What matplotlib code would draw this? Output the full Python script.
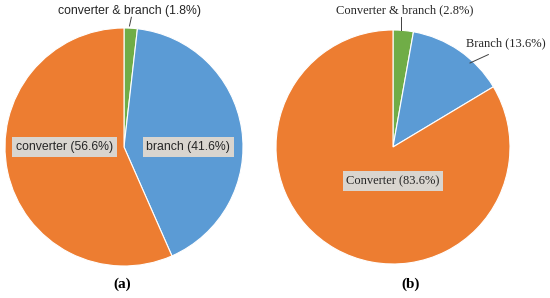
import matplotlib
matplotlib.use("Agg")
from matplotlib import pyplot as plt

W, H = 550, 298

# chart (a)
labels_a = ["converter & branch", "branch", "converter"]
values_a = [1.8, 41.6, 56.6]
# chart (b)
labels_b = ["Converter & branch", "Branch", "Converter"]
values_b = [2.8, 13.6, 83.6]

colors = ["#70AD47", "#5B9BD5", "#ED7D31"]
box = dict(boxstyle="square,pad=0.3", fc="#D9D5CF", ec="none")
line_kw = dict(color="#404040", lw=0.7, clip_on=False)


def pie_axes(cx, cy, r, values):
    # pixel centre / radius -> figure fraction axes
    ax = fig.add_axes([(cx - r) / W, (H - cy - r) / H, 2 * r / W, 2 * r / H])
    ax.pie(values, colors=colors, startangle=90, counterclock=False,
           wedgeprops=dict(edgecolor="white", linewidth=0.8))
    ax.set_xlim(-1, 1)
    ax.set_ylim(-1, 1)
    ax.set_aspect("equal")
    ax.axis("off")
    return ax


fig = plt.figure(figsize=(W / 100, H / 100), dpi=100)

# ---- (a)
ax1 = pie_axes(124, 147, 119, values_a)
sans = dict(family="Liberation Sans", fontsize=8.8, color="#262626")
ax1.text(-0.50, 0.0, f"{labels_a[2]} ({values_a[2]}%)", ha="center", va="center",
         bbox=box, **sans)
ax1.text(0.54, 0.0, f"{labels_a[1]} ({values_a[1]}%)", ha="center", va="center",
         bbox=box, **sans)
ax1.text(0.05, 1.145, f"{labels_a[0]} ({values_a[0]}%)", ha="center", va="center", **sans)
ax1.plot([0.046, 0.062], [1.017, 1.09], **line_kw)

# ---- (b)
ax2 = pie_axes(393, 147, 117, values_b)
serif = dict(family="Liberation Serif", fontsize=9.0, color="#262626")
ax2.text(0.0, -0.29, f"{labels_b[2]} ({values_b[2]}%)", ha="center", va="center",
         bbox=box, **serif)
ax2.text(0.10, 1.17, f"{labels_b[0]} ({values_b[0]}%)", ha="center", va="center", **serif)
ax2.plot([0.068, 0.068], [1.0, 1.11], **line_kw)
ax2.text(0.96, 0.89, f"{labels_b[1]} ({values_b[1]}%)", ha="center", va="center", **serif)
ax2.plot([0.658, 0.815], [0.718, 0.79], **line_kw)

# captions
fig.text(122 / W, 1 - 284 / H, "(a)", ha="center", va="center",
         family="Liberation Serif", fontsize=11, fontweight="bold")
fig.text(411 / W, 1 - 284 / H, "(b)", ha="center", va="center",
         family="Liberation Serif", fontsize=11, fontweight="bold")

fig.savefig("out.png", dpi=100, facecolor="white")
